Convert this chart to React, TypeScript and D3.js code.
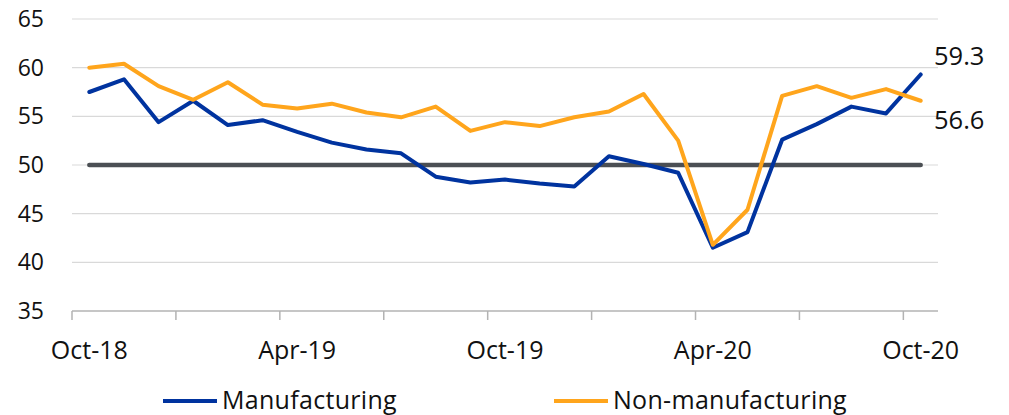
import React from "react";
import * as d3 from "d3";

const months = [
  "Oct-18", "Nov-18", "Dec-18", "Jan-19", "Feb-19", "Mar-19", "Apr-19",
  "May-19", "Jun-19", "Jul-19", "Aug-19", "Sep-19", "Oct-19", "Nov-19",
  "Dec-19", "Jan-20", "Feb-20", "Mar-20", "Apr-20", "May-20", "Jun-20",
  "Jul-20", "Aug-20", "Sep-20", "Oct-20",
];

const manufacturing = [
  57.5, 58.8, 54.4, 56.6, 54.1, 54.6, 53.4, 52.3, 51.6, 51.2, 48.8, 48.2,
  48.5, 48.1, 47.8, 50.9, 50.1, 49.2, 41.5, 43.1, 52.6, 54.2, 56.0, 55.3, 59.3,
];

const nonManufacturing = [
  60.0, 60.4, 58.1, 56.7, 58.5, 56.2, 55.8, 56.3, 55.4, 54.9, 56.0, 53.5,
  54.4, 54.0, 54.9, 55.5, 57.3, 52.5, 41.8, 45.4, 57.1, 58.1, 56.9, 57.8, 56.6,
];

const threshold = months.map(() => 50);

const yTicks = [35, 40, 45, 50, 55, 60, 65];
const xLabels = ["Oct-18", "Apr-19", "Oct-19", "Apr-20", "Oct-20"];

const seriesList = [
  { name: "Manufacturing", values: manufacturing, color: "#00339f" },
  { name: "Non-manufacturing", values: nonManufacturing, color: "#ffa51c" },
];

const W = 1009;
const H = 415;
const FONT = "'Open Sans', sans-serif";

export default function App() {
  const x = d3.scaleBand<string>().domain(months).range([72, 938]);
  const y = d3.scaleLinear().domain([35, 65]).range([311, 19]);
  const cx = (m: string) => (x(m) as number) + x.bandwidth() / 2;

  const line = d3
    .line<number>()
    .x((_, i) => cx(months[i]))
    .y((d) => y(d));

  const last = months.length - 1;

  return (
    <svg
      width={W}
      height={H}
      style={{ position: "absolute", left: 0, top: 0, fontFamily: FONT }}
    >
      <rect width={W} height={H} fill="#fff" />

      {/* grid */}
      {yTicks
        .filter((t) => t !== 35)
        .map((t) => (
          <line key={t} x1={72} x2={938} y1={y(t)} y2={y(t)} stroke="#d9d9d9" strokeWidth={1.2} />
        ))}

      {yTicks.map((t) => (
        <text key={t} x={44} y={y(t)} dy="0.35em" textAnchor="end" fontSize={23} fill="#111">
          {t}
        </text>
      ))}

      {/* x axis */}
      <line x1={72} x2={938} y1={y(35)} y2={y(35)} stroke="#b3b3b3" strokeWidth={1.5} />
      {months.map((m, i) =>
        i % 3 === 0 ? (
          <line key={m} x1={x(m)} x2={x(m)} y1={y(35)} y2={y(35) + 9} stroke="#b3b3b3" strokeWidth={1.5} />
        ) : null
      )}
      {xLabels.map((m) => (
        <text key={m} x={cx(m)} y={359} textAnchor="middle" fontSize={25} fill="#111">
          {m}
        </text>
      ))}

      {/* 50 line */}
      <path d={line(threshold) || ""} fill="none" stroke="#4b4f54" strokeWidth={4.5} strokeLinecap="round" />

      {seriesList.map((s) => (
        <path
          key={s.name}
          d={line(s.values) || ""}
          fill="none"
          stroke={s.color}
          strokeWidth={4}
          strokeLinejoin="round"
          strokeLinecap="round"
        />
      ))}

      {/* end labels */}
      <text x={934} y={65} fontSize={25.5} fill="#111">
        {manufacturing[last].toFixed(1)}
      </text>
      <text x={934} y={129} fontSize={25.5} fill="#111">
        {nonManufacturing[last].toFixed(1)}
      </text>

      {/* legend */}
      <line x1={163} x2={217} y1={401} y2={401} stroke={seriesList[0].color} strokeWidth={4} />
      <text x={222} y={409} fontSize={25} letterSpacing={0.3} fill="#111">
        {seriesList[0].name}
      </text>
      <line x1={554} x2={608} y1={401} y2={401} stroke={seriesList[1].color} strokeWidth={4} />
      <text x={613} y={409} fontSize={25} letterSpacing={0.3} fill="#111">
        {seriesList[1].name}
      </text>
    </svg>
  );
}
